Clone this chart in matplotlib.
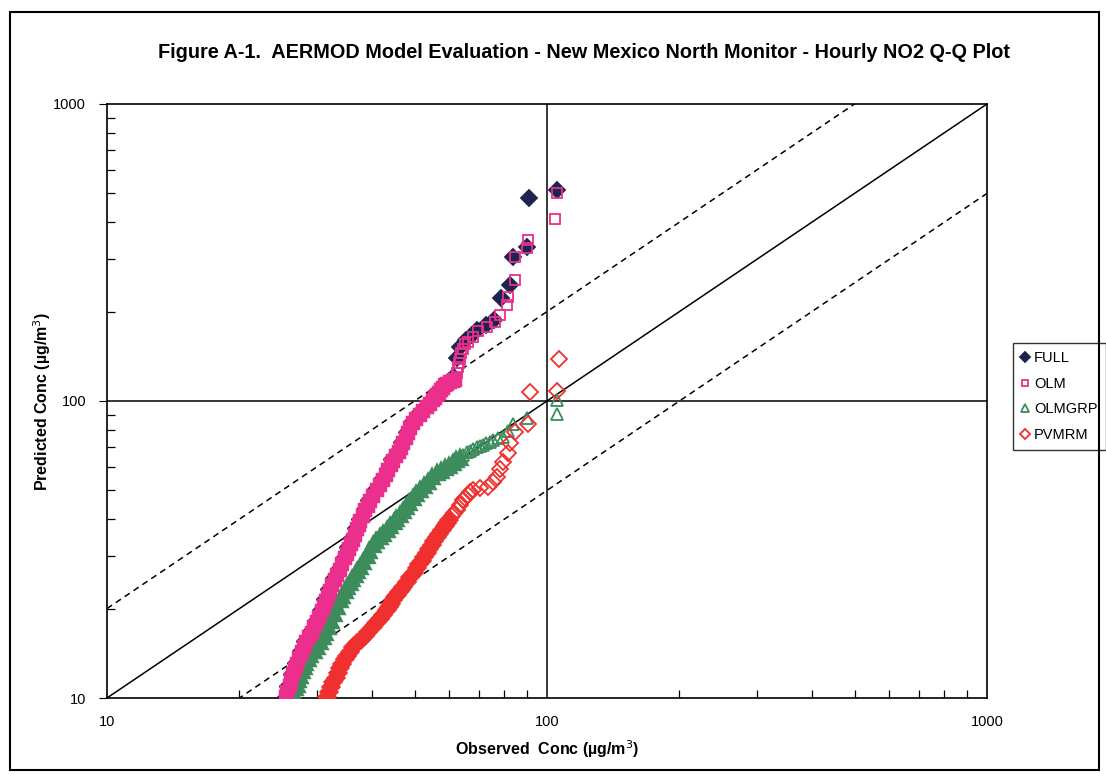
import numpy as np
import matplotlib
matplotlib.use("Agg")
import matplotlib.pyplot as plt
from matplotlib.patches import Rectangle
from matplotlib.ticker import LogLocator, NullFormatter, FixedLocator

plt.rcParams['font.family'] = ['Liberation Sans', 'DejaVu Sans']

# Q-Q pairs (observed, predicted), ug/m3
full_obs = [25.2, 25.7, 26.2, 26.8, 27.4, 28.1, 28.9, 29.7, 30.5, 31.2, 31.8, 32.7, 33.6,
            34.5, 35.2, 35.9, 36.7, 37.3, 38.3, 39.3, 40.6, 42.0, 43.2, 44.3, 45.6, 46.7,
            47.9, 49.2, 51.0, 52.8, 54.5, 55.8, 57.1, 58.2, 59.9, 61.3, 62.4, 63.6, 65.5,
            67.5, 69.3, 72.7, 75.8, 78.7, 82.4, 83.8, 89.9, 91.2, 105.2]
full_pred = [10.0, 11.0, 12.0, 13.1, 14.4, 15.5, 16.8, 18.2, 19.8, 21.5, 23.3, 25.3, 27.3,
             29.8, 32.2, 34.5, 37.5, 40.0, 43.3, 46.5, 50.5, 54.6, 59.0, 63.6, 68.0, 72.8,
             78.7, 85.0, 91.0, 96.5, 101.5, 105.5, 110.0, 114.0, 117.5, 121.0, 140.0, 152.0, 160.0,
             167.0, 174.0, 180.0, 187.0, 222.0, 246.0, 306.0, 329.0, 484.0, 513.0]

olm_obs = [25.5, 25.7, 26.0, 26.2, 26.5, 26.7, 27.0, 27.3, 27.7, 28.0, 28.4, 28.8, 29.2,
           29.6, 30.0, 30.4, 30.8, 31.1, 31.5, 31.8, 32.1, 32.5, 33.0, 33.4, 33.9, 34.3,
           34.8, 35.1, 35.5, 35.9, 36.2, 36.6, 37.0, 37.3, 37.6, 38.1, 38.6, 39.1, 39.6,
           40.3, 41.0, 41.7, 42.4, 43.0, 43.6, 44.1, 44.7, 45.3, 46.0, 46.5, 47.1, 47.7,
           48.3, 48.9, 49.6, 50.5, 51.5, 52.4, 53.3, 54.2, 55.0, 55.6, 56.2, 56.9, 57.5,
           58.0, 58.6, 59.4, 60.3, 61.0, 61.8, 62.3, 62.8, 63.0, 63.4, 63.8, 64.4, 65.0,
           66.0, 67.9, 69.7, 73.1, 76.2, 78.2, 81.1, 81.5, 84.6, 84.6, 90.1, 90.5, 104.3, 105.4]
olm_pred = [10.1, 10.5, 11.0, 11.5, 12.0, 12.5, 13.0, 13.6, 14.3, 14.8, 15.4, 16.0, 16.6,
            17.3, 18.0, 18.8, 19.6, 20.4, 21.2, 22.1, 23.0, 24.0, 25.0, 26.0, 27.0, 28.2,
            29.5, 30.6, 31.8, 32.9, 34.0, 35.5, 37.0, 38.2, 39.5, 41.1, 42.8, 44.4, 46.0,
            48.0, 50.0, 52.0, 54.0, 56.2, 58.5, 60.7, 63.0, 65.2, 67.5, 69.7, 72.0, 75.0,
            78.0, 81.0, 84.0, 87.0, 90.0, 92.8, 95.5, 98.0, 100.5, 102.5, 104.5, 106.8, 109.0,
            111.0, 113.0, 114.5, 116.0, 117.0, 118.0, 124.0, 130.0, 134.0, 139.0, 145.0, 150.0, 155.0,
            158.0, 164.0, 172.0, 177.0, 184.0, 195.0, 210.0, 224.0, 255.0, 305.0, 327.0, 348.0,
            409.0, 500.0]

grp_obs = [26.3, 26.5, 26.8, 27.0, 27.2, 27.5, 27.7, 28.0, 28.2, 28.6, 29.0, 29.5, 30.0,
           30.5, 30.9, 31.3, 31.8, 32.3, 32.8, 33.3, 33.9, 34.3, 34.8, 35.2, 35.7, 36.1,
           36.6, 37.1, 37.6, 38.2, 38.9, 39.5, 40.2, 40.9, 41.7, 42.5, 43.3, 44.0, 44.8,
           45.5, 46.3, 47.1, 47.9, 48.7, 49.6, 50.5, 51.4, 52.5, 53.7, 54.9, 56.2, 57.4,
           58.6, 59.8, 61.1, 62.2, 63.4, 64.6, 65.8, 66.9, 68.0, 69.2, 70.4, 71.6, 72.8,
           74.1, 75.4, 77.3, 79.4, 81.5, 83.7, 90.1, 105.4, 105.4]
grp_pred = [10.0, 10.4, 10.8, 11.1, 11.5, 11.9, 12.3, 12.7, 13.1, 13.5, 14.0, 14.4, 14.9,
            15.4, 16.0, 16.6, 17.3, 18.2, 19.2, 20.3, 21.4, 22.1, 22.9, 23.6, 24.4, 25.2,
            26.0, 26.8, 27.6, 28.8, 30.0, 31.3, 32.7, 33.7, 34.8, 35.8, 36.8, 37.9, 39.0,
            40.1, 41.3, 42.6, 44.0, 45.5, 47.1, 48.6, 50.1, 51.8, 53.5, 55.3, 57.2, 58.3,
            59.5, 60.6, 61.8, 63.1, 64.5, 65.8, 67.3, 68.1, 69.0, 69.8, 70.5, 71.2, 72.0,
            73.0, 73.9, 74.8, 75.7, 79.0, 83.7, 87.7, 90.4, 100.7]

pvm_obs = [31.6, 32.0, 32.3, 32.7, 33.1, 33.5, 33.9, 34.3, 34.8, 35.2, 35.7, 36.3, 37.0,
           37.7, 38.5, 39.3, 40.2, 40.9, 41.7, 42.5, 43.3, 43.7, 44.2, 44.6, 45.1, 45.6,
           46.1, 46.6, 47.1, 48.0, 48.9, 49.8, 50.7, 51.3, 52.0, 52.6, 53.3, 54.0, 54.7,
           55.4, 56.2, 56.9, 57.7, 58.5, 59.3, 60.0, 60.8, 61.6, 62.4, 63.4, 64.4, 65.2,
           66.1, 67.0, 67.9, 70.5, 73.4, 75.2, 77.0, 78.2, 79.4, 81.5, 82.4, 84.6, 90.5,
           91.5, 105.4, 106.4]
pvm_pred = [10.1, 10.5, 10.9, 11.3, 11.7, 12.1, 12.6, 13.0, 13.5, 13.9, 14.3, 14.8, 15.3,
            15.7, 16.2, 16.7, 17.3, 17.9, 18.5, 19.1, 19.8, 20.3, 20.8, 21.3, 21.9, 22.3,
            22.7, 23.1, 23.6, 24.5, 25.5, 26.4, 27.4, 28.2, 29.0, 29.9, 30.8, 31.7, 32.7,
            33.7, 34.8, 35.8, 36.8, 37.8, 38.8, 39.8, 40.9, 42.0, 43.0, 44.6, 46.4, 47.3,
            48.3, 49.2, 50.2, 50.8, 51.3, 53.2, 55.5, 58.8, 62.3, 66.8, 72.2, 78.6, 83.7,
            107.2, 108.1, 138.4]

ref_x = [10, 1000]
ratios = [1, 2, 0.5]

fig = plt.figure(figsize=(11.06, 7.76), dpi=100)
ax = fig.add_axes([0.0967, 0.1005, 0.7957, 0.7655])

# reference lines: 1:1 solid, factor-of-two dashed
for r in ratios:
    ax.plot(ref_x, [v * r for v in ref_x], color='black', lw=1.1,
            ls='-' if r == 1 else (0, (4, 3)), zorder=1)
ax.axvline(100, color='black', lw=1.1, zorder=1)
ax.axhline(100, color='black', lw=1.1, zorder=1)


def scatter_series(obs, pred, cut, marker, color, ms, dense_ms, dense_mew, label,
                   filled=False, z=3):
    # lower part of each Q-Q curve is so dense the hollow markers merge into a band
    obs = np.array(obs)
    pred = np.array(pred)
    low = obs < cut
    face = color if filled else 'none'
    ax.plot(obs[low], pred[low], marker, mfc=color, mec=color, ms=dense_ms, mew=dense_mew,
            ls='none', zorder=z)
    ax.plot(obs[~low], pred[~low], marker, mfc=face, mec=color, ms=ms, mew=1.3,
            ls='none', zorder=z, label=label)


scatter_series(full_obs, full_pred, 62, 'D', '#1c2550', 8, 8.5, 1.0, 'FULL', filled=True, z=3)
scatter_series(olm_obs, olm_pred, 62, 's', '#ec2f8c', 7, 6.5, 3.2, 'OLM', z=4)
scatter_series(grp_obs, grp_pred, 64, '^', '#3d8c5c', 8.5, 8, 3.2, 'OLMGRP', z=3)
scatter_series(pvm_obs, pvm_pred, 60.5, 'D', '#f0302e', 8, 7.5, 3.2, 'PVMRM', z=3)

ax.set_xscale('log')
ax.set_yscale('log')
ax.set_xlim(10, 1000)
ax.set_ylim(10, 1000)
ax.xaxis.set_major_locator(FixedLocator([10, 100, 1000]))
ax.yaxis.set_major_locator(FixedLocator([10, 100, 1000]))
ax.set_xticklabels(['10', '100', '1000'])
ax.set_yticklabels(['10', '100', '1000'])
ax.xaxis.set_minor_locator(LogLocator(base=10, subs=np.arange(2, 10)))
ax.yaxis.set_minor_locator(LogLocator(base=10, subs=np.arange(2, 10)))
ax.xaxis.set_minor_formatter(NullFormatter())
ax.yaxis.set_minor_formatter(NullFormatter())
ax.tick_params(axis='x', which='major', direction='in', length=0, pad=12, labelsize=10.5)
ax.tick_params(axis='x', which='minor', direction='in', length=6, width=0.9)
ax.tick_params(axis='y', which='major', direction='out', length=6, pad=9, labelsize=10.5)
ax.tick_params(axis='y', which='minor', direction='in', length=6, width=0.9)
for s in ax.spines.values():
    s.set_linewidth(1.2)

ax.set_xlabel('Observed  Conc (µg/m$^3$)', fontsize=11.5, fontweight='bold', labelpad=7)
ax.set_ylabel('Predicted Conc (µg/m$^3$)', fontsize=11.5, fontweight='bold', labelpad=0)

fig.text(0.528, 0.932, 'Figure A-1.  AERMOD Model Evaluation - New Mexico North Monitor - Hourly NO2 Q-Q Plot',
         ha='center', va='center', fontsize=14.3, fontweight='bold')

leg = ax.legend(loc='upper left', bbox_to_anchor=(0.916, 0.558), bbox_transform=fig.transFigure,
                borderaxespad=0, frameon=True, fancybox=False, edgecolor='black', fontsize=10.5,
                handlelength=0.6, handletextpad=0.3, borderpad=0.55, labelspacing=0.8,
                markerscale=0.6)
leg.get_frame().set_linewidth(1.0)

fig.patches.append(Rectangle((0.009, 0.008), 0.985, 0.976, transform=fig.transFigure,
                             fill=False, edgecolor='black', lw=1.5))

fig.savefig('out.png', dpi=100)
